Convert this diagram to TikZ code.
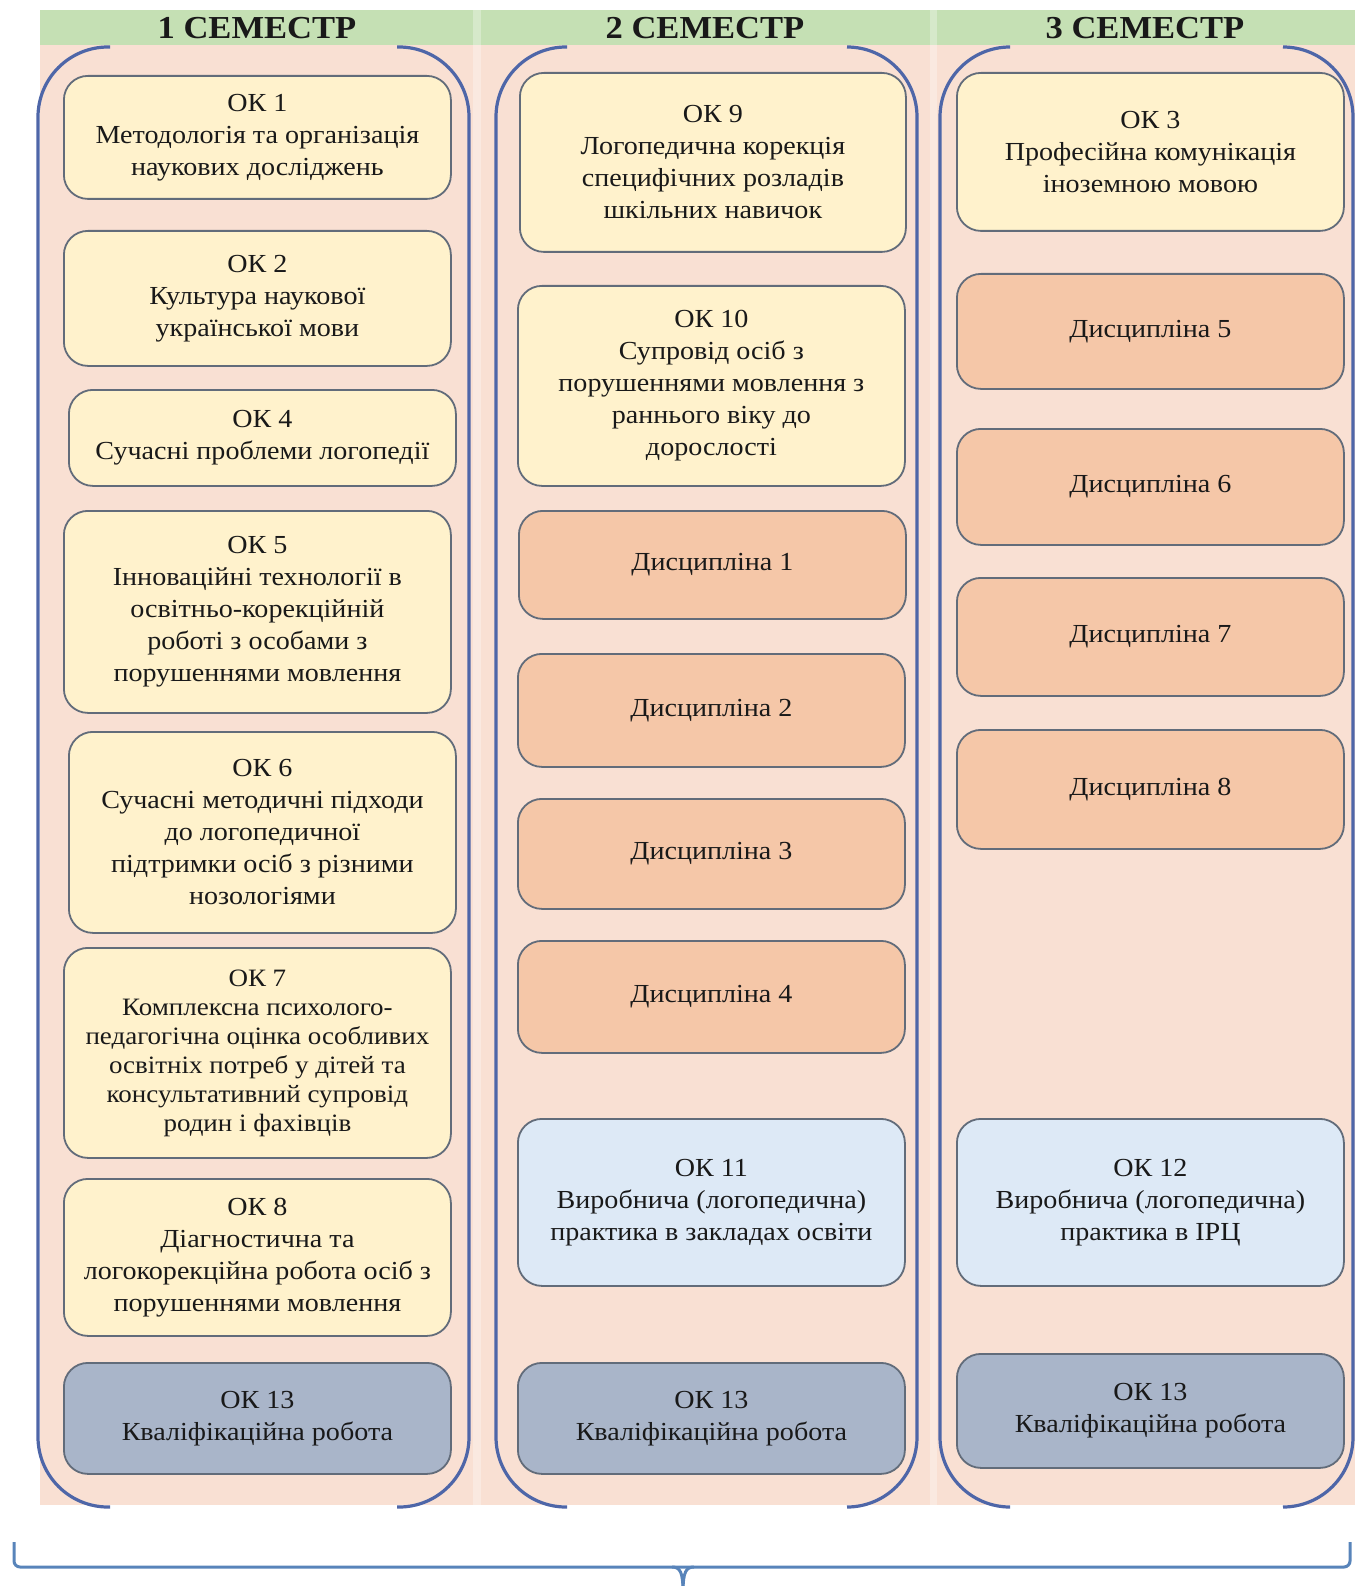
\documentclass[tikz,border=0pt]{standalone}
\usepackage{fontspec}
\setmainfont{Liberation Serif}[FakeStretch=1.08]
\definecolor{cpink}{RGB}{249,224,211}
\definecolor{cgreen}{RGB}{197,224,180}
\definecolor{cyel}{RGB}{255,242,204}
\definecolor{corange}{RGB}{245,199,168}
\definecolor{cblue}{RGB}{221,233,246}
\definecolor{cgray}{RGB}{169,181,201}
\definecolor{boxline}{RGB}{98,108,122}
\definecolor{brk}{RGB}{78,102,168}
\definecolor{bracecol}{RGB}{88,132,186}
\tikzset{
  box/.style={draw=boxline, line width=1.8pt, rounded corners=24pt, align=center,
    inner sep=0pt, text=black!90, font=\fontsize{26}{32}\selectfont},
  yel/.style={box, fill=cyel},
  org/.style={box, fill=corange},
  blu/.style={box, fill=cblue},
  gry/.style={box, fill=cgray},
  hdr/.style={font=\fontsize{32}{36}\selectfont\bfseries, text=black!90, inner sep=0pt},
  brkline/.style={draw=brk, line width=3.2pt, rounded corners=70pt},
  bracestyle/.style={draw=bracecol, line width=3pt}
}
\newcommand{\cbox}[7]{\node[#2, minimum width={(#5-#3)*1pt}, minimum height={(#6-#4)*1pt}, anchor=north west] (#1) at (#3,#4) {#7};}
\begin{document}
\begin{tikzpicture}[x=1pt,y=-1pt]
\useasboundingbox (0,0) rectangle (1359,1586);
% backgrounds
\fill[cpink] (40,45) rectangle (1355,1505);
\fill[cgreen] (40,10) rectangle (1355,45);
\fill[white,opacity=0.3] (473,10) rectangle (481,1505);
\fill[white,opacity=0.3] (930,10) rectangle (937,1505);
% headers
\node[hdr] (h1) at (257,28) {1 СЕМЕСТР};
\node[hdr] (h2) at (705,28) {2 СЕМЕСТР};
\node[hdr] (h3) at (1145,28) {3 СЕМЕСТР};
% column brackets
\draw[brkline] (110,47) -- (38,47) -- (38,1507) -- (110,1507);
\draw[brkline] (397,47) -- (469,47) -- (469,1507) -- (397,1507);
\draw[brkline] (567,47) -- (496,47) -- (496,1507) -- (567,1507);
\draw[brkline] (847,47) -- (917,47) -- (917,1507) -- (847,1507);
\draw[brkline] (1008,47) -- (940,47) -- (940,1507) -- (1008,1507);
\draw[brkline] (1285,47) -- (1353,47) -- (1353,1507) -- (1285,1507);
% column 1
\cbox{ok1}{yel}{63}{75}{450}{198}{ОК 1\\Методологія та організація\\наукових досліджень}
\cbox{ok2}{yel}{63}{230}{450}{365}{ОК 2\\Культура наукової\\української мови}
\cbox{ok4}{yel}{68}{389}{455}{485}{ОК 4\\Сучасні проблеми логопедії}
\cbox{ok5}{yel}{63}{510}{450}{712}{ОК 5\\Інноваційні технології в\\освітньо-корекційній\\роботі з особами з\\порушеннями мовлення}
\cbox{ok6}{yel}{68}{731}{455}{932}{ОК 6\\Сучасні методичні підходи\\до логопедичної\\підтримки осіб з різними\\нозологіями}
\cbox{ok7}{yel,font=\fontsize{25}{29}\selectfont}{63}{947}{450}{1157}{ОК 7\\Комплексна психолого-\\педагогічна оцінка особливих\\освітніх потреб у дітей та\\консультативний супровід\\родин і фахівців}
\cbox{ok8}{yel}{63}{1178}{450}{1335}{ОК 8\\Діагностична та\\логокорекційна робота осіб з\\порушеннями мовлення}
\cbox{ok13a}{gry}{63}{1362}{450}{1473}{ОК 13\\Кваліфікаційна робота}
% column 2
\cbox{ok9}{yel}{519}{72}{905}{251}{ОК 9\\Логопедична корекція\\специфічних розладів\\шкільних навичок}
\cbox{ok10}{yel}{517}{285}{904}{485}{ОК 10\\Супровід осіб з\\порушеннями мовлення з\\раннього віку до\\дорослості}
\cbox{d1}{org}{518}{510}{905}{618}{Дисципліна 1}
\cbox{d2}{org}{517}{653}{904}{766}{Дисципліна 2}
\cbox{d3}{org}{517}{798}{904}{908}{Дисципліна 3}
\cbox{d4}{org}{517}{940}{904}{1052}{Дисципліна 4}
\cbox{ok11}{blu}{517}{1118}{904}{1285}{ОК 11\\Виробнича (логопедична)\\практика в закладах освіти}
\cbox{ok13b}{gry}{517}{1362}{904}{1473}{ОК 13\\Кваліфікаційна робота}
% column 3
\cbox{ok3}{yel}{956}{72}{1343}{230}{ОК 3\\Професійна комунікація\\іноземною мовою}
\cbox{d5}{org}{956}{273}{1343}{388}{Дисципліна 5}
\cbox{d6}{org}{956}{428}{1343}{544}{Дисципліна 6}
\cbox{d7}{org}{956}{577}{1343}{695}{Дисципліна 7}
\cbox{d8}{org}{956}{729}{1343}{848}{Дисципліна 8}
\cbox{ok12}{blu}{956}{1118}{1343}{1285}{ОК 12\\Виробнича (логопедична)\\практика в ІРЦ}
\cbox{ok13c}{gry}{956}{1353}{1343}{1467}{ОК 13\\Кваліфікаційна робота}
% bottom brace
\coordinate (bl) at (14,1542);
\coordinate (br) at (1350,1542);
\coordinate (tip) at (683,1592);
\draw[bracestyle, rounded corners=6pt] (bl) -- (14,1567) -- (1350,1567) -- (br);
\draw[bracestyle] (672,1567) .. controls (680,1567) and (683,1572) .. (tip);
\draw[bracestyle] (694,1567) .. controls (686,1567) and (683,1572) .. (tip);
\end{tikzpicture}
\end{document}
